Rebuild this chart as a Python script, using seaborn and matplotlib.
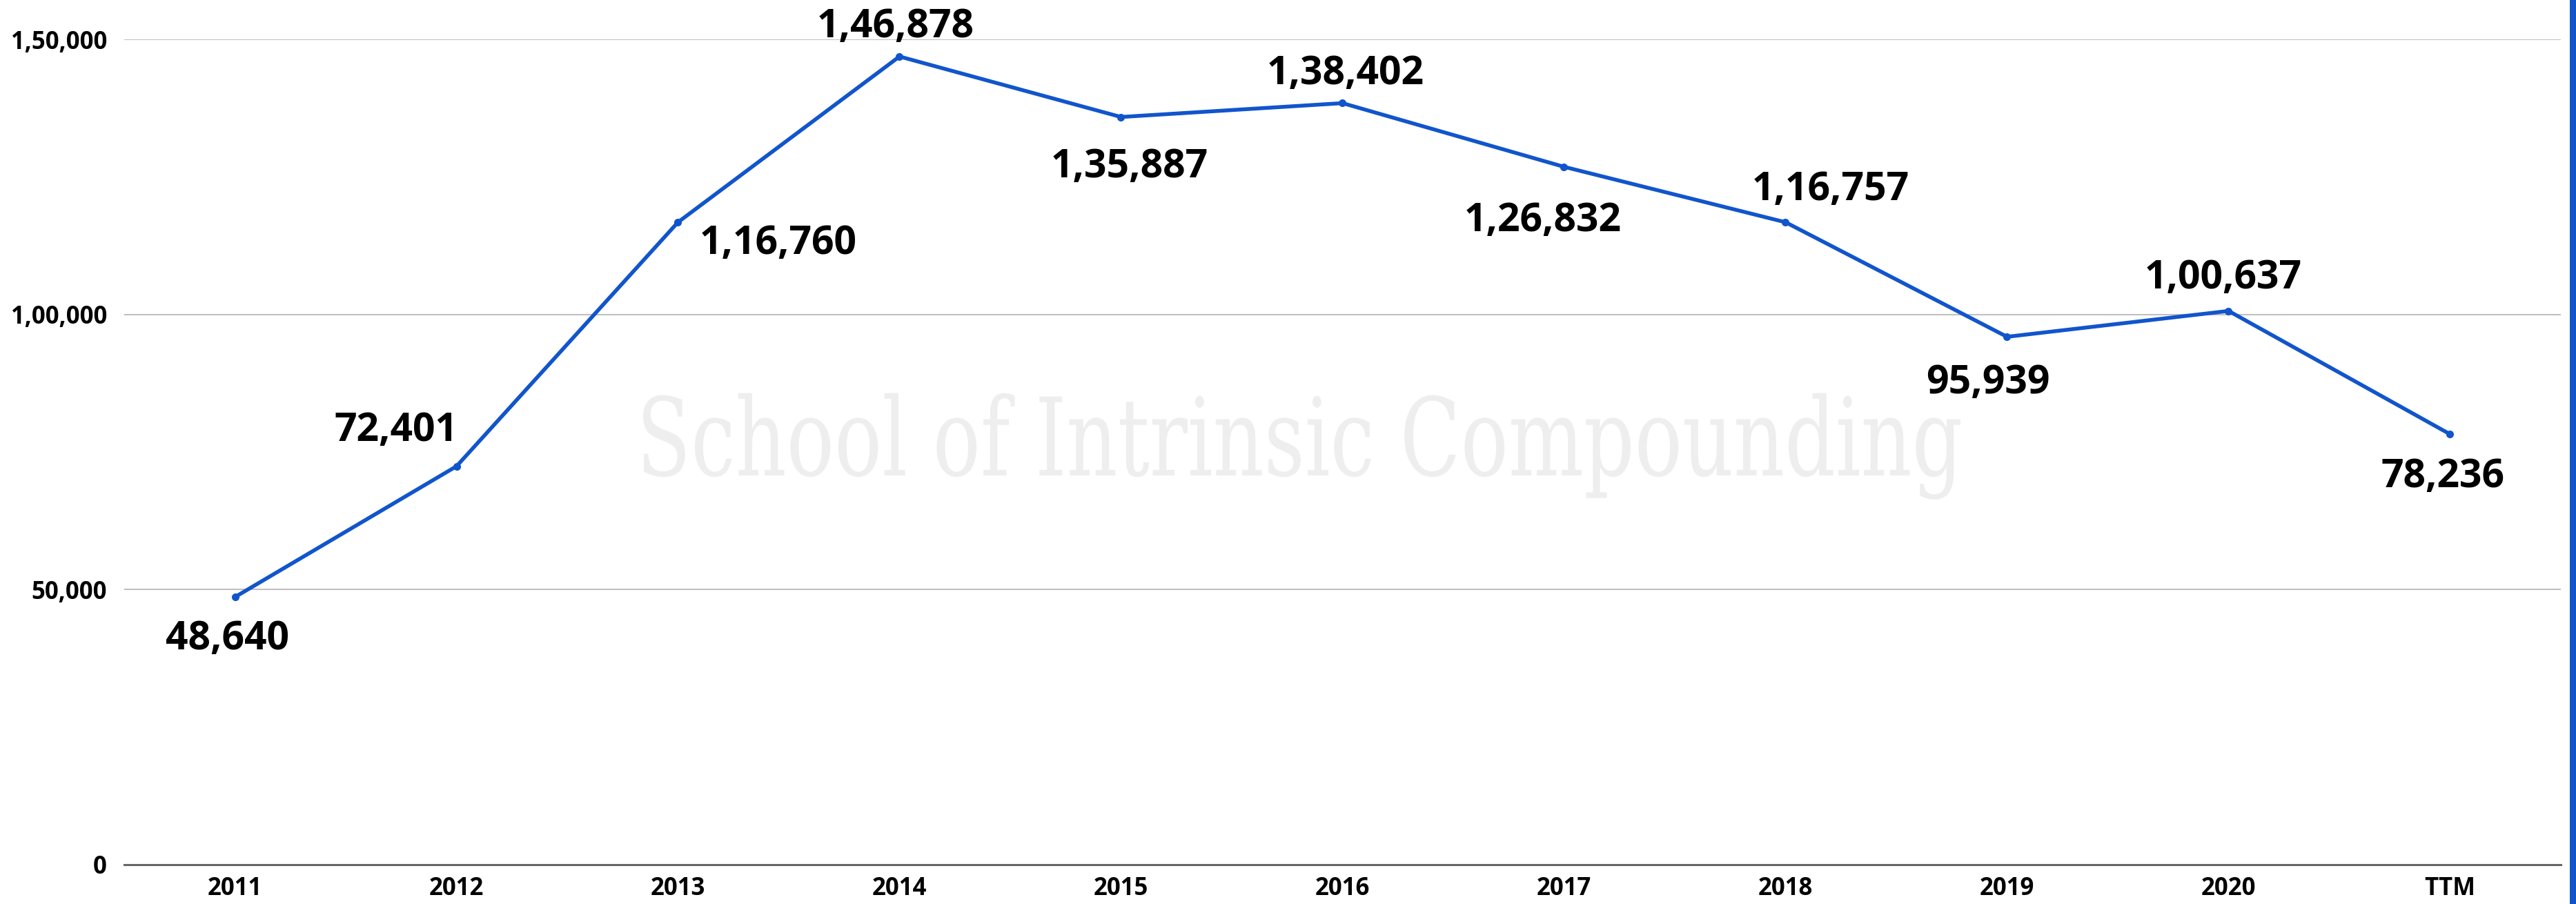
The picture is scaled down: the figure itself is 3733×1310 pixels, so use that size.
import matplotlib
matplotlib.use("Agg")
import matplotlib.pyplot as plt
import seaborn as sns
import pandas as pd
from matplotlib.font_manager import FontProperties
from matplotlib.patches import PathPatch, Rectangle
from matplotlib.textpath import TextPath
from matplotlib.transforms import Affine2D, IdentityTransform
from matplotlib.ticker import FuncFormatter

# Chart data
years = ["2011", "2012", "2013", "2014", "2015", "2016", "2017", "2018", "2019", "2020", "TTM"]
values = [48640, 72401, 116760, 146878, 135887, 138402, 126832, 116757, 95939, 100637, 78236]
y_ticks = [0, 50000, 100000, 150000]

# label offsets in pixels (dx, dy to baseline)
label_offsets = [(-11, -76), (-87, 37), (145, -46), (-6, 28), (12, -87), (4, 27),
                 (-31, -93), (65, 32), (-28, -82), (-8, 33), (-10, -77)]

BLUE = "#1155cc"
W, H, DPI = 3733, 1310, 100


def indian_format(n):
    s = str(int(round(n)))
    if len(s) <= 3:
        return s
    head, tail = s[:-3], s[-3:]
    parts = []
    while len(head) > 2:
        parts.insert(0, head[-2:])
        head = head[:-2]
    if head:
        parts.insert(0, head)
    return ",".join(parts + [tail])


def main():
    sns.set_style("white")
    plt.rcParams["font.family"] = ["Open Sans", "DejaVu Sans"]

    df = pd.DataFrame({"year": years, "value": values})

    fig = plt.figure(figsize=(W / DPI, H / DPI), dpi=DPI)
    ax = fig.add_axes([180 / W, (H - 1253) / H, (3711 - 180) / W, (1253 - 57) / H])
    ax.set_facecolor("none")

    # Watermark drawn as a stretched text path
    tp = TextPath((0, 0), "School of Intrinsic Compounding", size=1,
                  prop=FontProperties(family="DejaVu Serif"))
    bb = tp.get_extents()
    sx = (2841 - 932) / bb.width
    sy = 157
    trans = Affine2D().translate(-bb.x0, 0).scale(sx, sy).translate(932, H - 689)
    wm = PathPatch(trans.transform_path(tp), facecolor="#eeeeee", edgecolor="none",
                   transform=IdentityTransform())
    fig.add_artist(wm)
    wm.set_zorder(-1)

    sns.lineplot(data=df, x="year", y="value", sort=False, color=BLUE,
                 marker="o", ax=ax, zorder=3)
    for line in ax.lines:
        line.set_linewidth(4.0)
        line.set_markersize(8)
        line.set_markeredgewidth(0)

    ax.set_xlim(-0.5, len(years) - 0.5)
    ax.set_ylim(0, 150000)
    ax.set_yticks(y_ticks)
    ax.yaxis.set_major_formatter(FuncFormatter(lambda v, p: indian_format(v)))
    ax.set_xlabel("")
    ax.set_ylabel("")

    for y in y_ticks[1:]:
        ax.axhline(y, color="#c0c0c0", lw=1.5, zorder=1)

    for s in ["top", "right", "left"]:
        ax.spines[s].set_visible(False)
    ax.spines["bottom"].set_color("#666666")
    ax.spines["bottom"].set_linewidth(2.2)
    ax.spines["bottom"].set_zorder(2)

    ax.tick_params(axis="y", length=0, pad=18, labelsize=25)
    ax.tick_params(axis="x", length=0, pad=12, labelsize=25)
    for lab in ax.get_xticklabels() + ax.get_yticklabels():
        lab.set_fontweight("bold")
        lab.set_color("black")

    # Data labels
    for i, v in enumerate(values):
        dx, dy = label_offsets[i]
        ax.annotate(indian_format(v), xy=(i, v), xytext=(dx, dy),
                    textcoords="offset pixels", ha="center", va="baseline",
                    fontsize=41, fontweight="bold", color="black",
                    annotation_clip=False, zorder=4)

    # Blue strip on right edge
    fig.add_artist(Rectangle((3724 / W, 0), 9 / W, 1, transform=fig.transFigure,
                             facecolor=BLUE, edgecolor="none"))

    fig.savefig("out.png", dpi=DPI, facecolor="white")


if __name__ == "__main__":
    main()
